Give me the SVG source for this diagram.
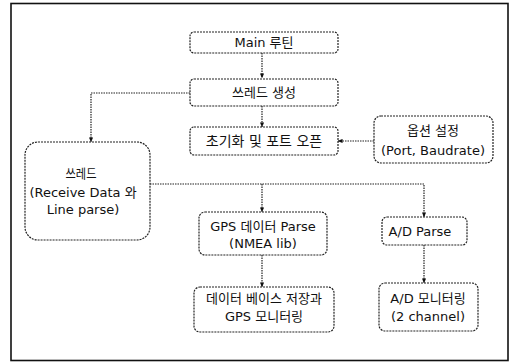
<svg xmlns="http://www.w3.org/2000/svg" width="510" height="362" viewBox="0 0 510 362">
<style>
.frame{fill:none;stroke:#111;stroke-width:1.6}
.box{fill:#fff;stroke:#222;stroke-width:1.2;stroke-dasharray:2 1}
.ln{fill:none;stroke:#222;stroke-width:1.2;stroke-dasharray:1.5 1}
text{font-family:"DejaVu Sans","Noto Sans CJK KR",sans-serif;font-size:13px;fill:#111;text-anchor:middle}
</style>
<defs>
<marker id="ah" viewBox="0 0 6 6" refX="5.5" refY="3" markerWidth="5" markerHeight="5" orient="auto" markerUnits="userSpaceOnUse">
<path d="M0,0.5 L6,3 L0,5.5 z" fill="#111"/>
</marker>
</defs>
<rect class="frame" x="11" y="3.5" width="497" height="357"/>
<g id="connectors">
<line class="ln" x1="262" y1="53" x2="262" y2="78" marker-end="url(#ah)"/>
<line class="ln" x1="262" y1="106" x2="262" y2="127" marker-end="url(#ah)"/>
<polyline class="ln" points="190,93 91,93 91,142" marker-end="url(#ah)"/>
<line class="ln" x1="374" y1="141" x2="338" y2="141" marker-end="url(#ah)"/>
<polyline class="ln" points="150,184 424,184 424,217" marker-end="url(#ah)"/>
<line class="ln" x1="262" y1="184" x2="262" y2="212" marker-end="url(#ah)"/>
<line class="ln" x1="262" y1="255" x2="262" y2="287" marker-end="url(#ah)"/>
<line class="ln" x1="424" y1="245" x2="424" y2="283" marker-end="url(#ah)"/>
</g>
<g id="main">
<rect class="box" x="190" y="32" width="148" height="21" rx="4"/>
<text x="264" y="47">Main 루틴</text>
</g>
<g id="thread-create">
<rect class="box" x="190" y="79" width="148" height="27" rx="4"/>
<text x="264" y="97">쓰레드 생성</text>
</g>
<g id="init">
<rect class="box" x="190" y="127" width="148" height="28" rx="4"/>
<text x="264" y="146" style="font-size:14px">초기화 및 포트 오픈</text>
</g>
<g id="option">
<rect class="box" x="374" y="116" width="119" height="47" rx="7"/>
<text x="433" y="135">옵션 설정</text>
<text x="433" y="155">(Port, Baudrate)</text>
</g>
<g id="thread">
<rect class="box" x="25" y="142" width="125" height="98" rx="13"/>
<text x="81" y="178" textLength="31" lengthAdjust="spacingAndGlyphs">쓰레드</text>
<text x="83" y="197">(Receive Data 와</text>
<text x="83" y="214">Line parse)</text>
</g>
<g id="gps-parse">
<rect class="box" x="199" y="212" width="128" height="43" rx="6"/>
<text x="263" y="231">GPS 데이터 Parse</text>
<text x="263" y="248">(NMEA lib)</text>
</g>
<g id="ad-parse">
<rect class="box" x="382" y="217" width="85" height="28" rx="5"/>
<text x="420" y="236">A/D Parse</text>
</g>
<g id="db">
<rect class="box" x="194" y="287" width="140" height="45" rx="6"/>
<text x="264" y="303">데이터 베이스 저장과</text>
<text x="264" y="321">GPS 모니터링</text>
</g>
<g id="ad-mon">
<rect class="box" x="379" y="283" width="99" height="48" rx="6"/>
<text x="428" y="303">A/D 모니터링</text>
<text x="428" y="321">(2 channel)</text>
</g>
</svg>
